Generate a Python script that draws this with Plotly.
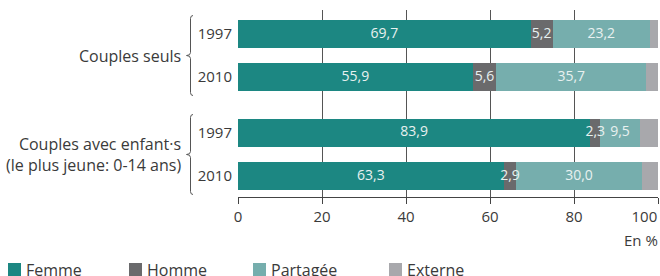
import plotly.graph_objects as go

# ---- data ----
groups = ["Couples seuls", "Couples avec enfant·s<br>(le plus jeune: 0-14 ans)"]
years = ["1997", "2010", "1997", "2010"]
series_names = ["Femme", "Homme", "Partagée", "Externe"]
femme = [69.7, 55.9, 83.9, 63.3]
homme = [5.2, 5.6, 2.3, 2.9]
partagee = [23.2, 35.7, 9.5, 30.0]
externe = [1.9, 2.8, 4.3, 3.8]
x_ticks = [0, 20, 40, 60, 80, 100]
x_ticktext = ["0", "20", "40", "60", "80", "100" + "\u00a0" * 7]

# ---- layout / style ----
colors = ["#1c8782", "#6a6a6c", "#76aead", "#a8a8ac"]
ypos = [0, 1, 2.3, 3.3]
group_members = [(0, 1), (2, 3)]
FONT = "Open Sans"
label_col = "#3a3a3a"

fig = go.Figure()
values = [femme, homme, partagee, externe]
for name, vals, col in zip(series_names, values, colors):
    fig.add_trace(go.Bar(
        name=name, x=vals, y=ypos, orientation="h", width=0.651,
        marker=dict(color=col, line=dict(width=0)),
        showlegend=False,
    ))

# value labels drawn on top of all bars (centre of each labelled segment)
lab_x, lab_y, lab_t = [], [], []
for i, y in enumerate(ypos):
    start = 0.0
    for name, vals in zip(series_names, values):
        v = vals[i]
        if name != "Externe":
            lab_x.append(start + v / 2)
            lab_y.append(y)
            lab_t.append(f"{v:.1f}".replace(".", ","))
        start += v
fig.add_trace(go.Scatter(
    x=lab_x, y=lab_y, text=lab_t, mode="text", textposition="middle center",
    textfont=dict(family=FONT, size=14, color="#e8f1f0"),
    showlegend=False, hoverinfo="skip", cliponaxis=False,
))

shapes = []
annotations = []

# group labels with braces
for label, (a, b) in zip(groups, group_members):
    yc = (ypos[a] + ypos[b]) / 2
    annotations.append(dict(
        text=label, xref="paper", x=0, xanchor="right", xshift=-55,
        yref="y", y=yc, yanchor="middle", showarrow=False, align="right",
        font=dict(family=FONT, size=16, color=label_col),
    ))
    h = 40
    path = (f"M -45,{h} Q -47.5,{h} -47.5,{h-3} L -47.5,3 Q -47.5,0 -51.5,0 "
            f"Q -47.5,0 -47.5,-3 L -47.5,{-h+3} Q -47.5,{-h} -45,{-h}")
    shapes.append(dict(
        type="path", xref="paper", xsizemode="pixel", xanchor=0,
        yref="y", ysizemode="pixel", yanchor=yc, path=path,
        line=dict(color="#555555", width=1),
    ))

# "En %" unit label
annotations.append(dict(
    text="En %", xref="paper", x=1, xanchor="right", xshift=2,
    yref="paper", y=0, yanchor="middle", yshift=-43, showarrow=False,
    font=dict(family=FONT, size=15, color=label_col),
))

# custom legend (square + label), pixel offsets from the plot's left edge
legend_sq_px = [-230, -109, 15, 151]
for name, col, sx in zip(series_names, colors, legend_sq_px):
    shapes.append(dict(
        type="rect", xref="paper", xsizemode="pixel", xanchor=0,
        x0=sx, x1=sx + 13, yref="paper", ysizemode="pixel", yanchor=0,
        y0=-66, y1=-80, fillcolor=col, line=dict(width=0),
    ))
    annotations.append(dict(
        text=name, xref="paper", x=0, xanchor="left", xshift=sx + 16,
        yref="paper", y=0, yanchor="middle", yshift=-73, showarrow=False,
        font=dict(family=FONT, size=16, color=label_col),
    ))

fig.update_layout(
    width=660, height=276,
    margin=dict(l=238, r=2, t=10, b=79, autoexpand=False),
    barmode="stack",
    plot_bgcolor="white", paper_bgcolor="white",
    font=dict(family=FONT, size=15, color=label_col),
    shapes=shapes, annotations=annotations,
    xaxis=dict(
        range=[0, 100], tickvals=x_ticks, ticktext=x_ticktext, showgrid=True,
        gridcolor="#555555", gridwidth=1, zeroline=False,
        showline=True, linecolor="#444444", linewidth=1,
        ticks="outside", ticklen=6, tickcolor="#444444",
        ticklabeloverflow="allow", automargin=False,
        tickfont=dict(family=FONT, size=15, color=label_col),
        fixedrange=True,
    ),
    yaxis=dict(
        range=[3.788, -0.558], tickvals=ypos, ticktext=years,
        showgrid=False, zeroline=False, showline=False, ticks="",
        ticklabelstandoff=5, automargin=False,
        tickfont=dict(family=FONT, size=15, color=label_col),
        fixedrange=True,
    ),
)

fig.write_html("out.html", config={"displayModeBar": False},
               post_script="document.body.style.margin='0';")
